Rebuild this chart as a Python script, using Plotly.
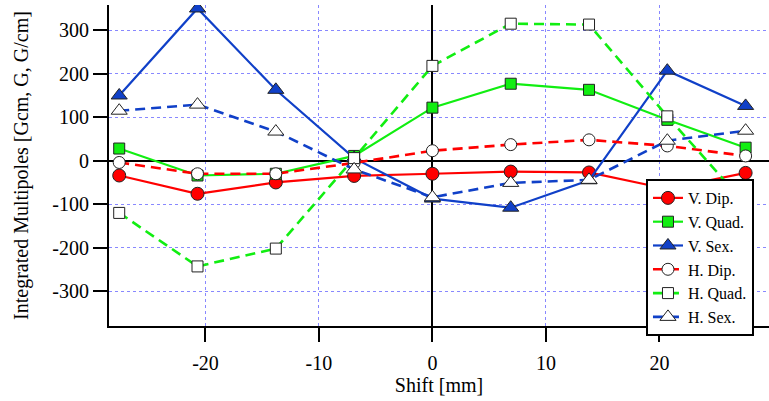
import plotly.graph_objects as go

shift = [-27.6, -20.7, -13.8, -6.9, 0, 6.9, 13.8, 20.7, 27.6]

v_dip = [-34, -76, -50, -35, -30, -25, -27, -65, -28]
v_quad = [28, -34, -30, 11, 122, 177, 163, 94, 30]
v_sex = [150, 350, 163, 6, -87, -108, -45, 207, 126]
h_dip = [-4, -30, -30, -5, 23, 37, 48, 34, 11]
h_quad = [-120, -243, -202, 6, 218, 315, 313, 102, -100]
h_sex = [115, 129, 67, -20, -84, -51, -44, 46, 69]

x_ticks = [-20, -10, 0, 10, 20]
x_ticklabels = ["-20", "-10", "0", "10", "20"]
y_ticks = [-300, -200, -100, 0, 100, 200, 300]
y_ticklabels = ["-300", "-200", "-100", "0", "100", "200", "300"]

RED = "#ff0000"
GREEN = "#11ee11"
BLUE = "#1040c8"

series = [
    ("V. Dip.", v_dip, RED, "solid", "circle", RED, 13, 2.2),
    ("V. Quad.", v_quad, GREEN, "solid", "square", GREEN, 11, 2.2),
    ("V. Sex.", v_sex, BLUE, "solid", "triangle-up", BLUE, 14, 2.2),
    ("H. Dip.", h_dip, RED, "10px,6px", "circle", "white", 12, 2.6),
    ("H. Quad.", h_quad, GREEN, "10px,6px", "square", "white", 11, 2.6),
    ("H. Sex.", h_sex, BLUE, "10px,6px", "triangle-up", "white", 14, 2.6),
]

fig = go.Figure()
for name, ys, col, dash, sym, fill, size, lw in series:
    fig.add_trace(go.Scatter(
        x=shift, y=ys, name=name, mode="lines+markers",
        line=dict(color=col, width=lw, dash=dash),
        marker=dict(symbol=sym, size=size, color=fill,
                    line=dict(color="#222222", width=1)),
    ))

FONT = "'Liberation Serif', 'Times New Roman', Times, serif"
fig.update_layout(
    width=769, height=401,
    margin=dict(l=109, r=0, t=5, b=75),
    paper_bgcolor="white", plot_bgcolor="white",
    font=dict(family=FONT, size=20, color="black"),
    showlegend=True,
    legend=dict(
        x=0.8136, y=0.458, xanchor="left", yanchor="top",
        bgcolor="white", bordercolor="black", borderwidth=2,
        font=dict(family=FONT, size=16), tracegroupgap=0,
        itemwidth=30,
    ),
    xaxis=dict(
        range=[-28.5, 29.66],
        tickvals=x_ticks, ticktext=x_ticklabels,
        showline=True, linecolor="black", linewidth=2,
        ticks="outside", ticklen=14, tickwidth=2, tickcolor="black",
        ticklabelstandoff=4,
        showgrid=True, gridcolor="#8888ff", gridwidth=1, griddash="dot",
        zeroline=True, zerolinecolor="black", zerolinewidth=2,
        title=dict(text="Shift [mm]", font=dict(family=FONT, size=20), standoff=2),
        tickfont=dict(family=FONT, size=20),
    ),
    yaxis=dict(
        range=[-380, 358],
        tickvals=y_ticks, ticktext=y_ticklabels,
        showline=True, linecolor="black", linewidth=2,
        ticks="outside", ticklen=14, tickwidth=2, tickcolor="black",
        showgrid=True, gridcolor="#8888ff", gridwidth=1, griddash="dot",
        zeroline=True, zerolinecolor="black", zerolinewidth=2,
        title=dict(text="Integrated Multipoles [Gcm, G, G/cm]", font=dict(family=FONT, size=20), standoff=18),
        tickfont=dict(family=FONT, size=20),
    ),
)

fig.write_html("out.html")
